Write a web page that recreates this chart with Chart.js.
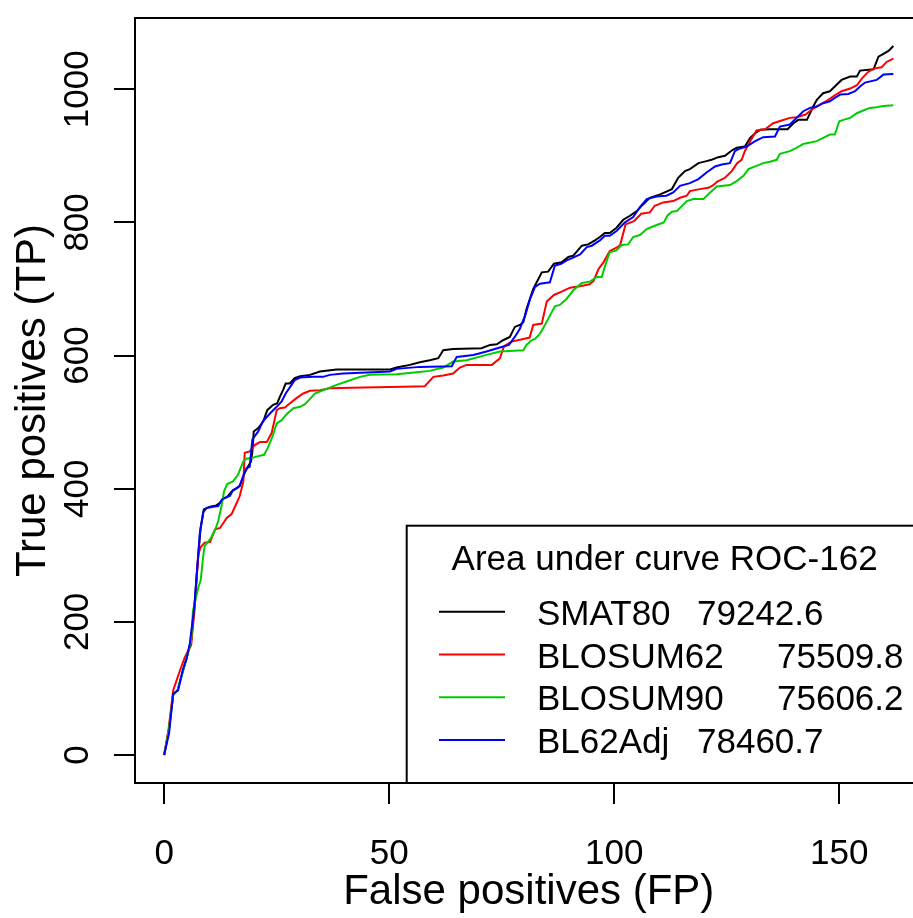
<!DOCTYPE html>
<html>
<head>
<meta charset="utf-8">
<script src="https://cdn.jsdelivr.net/npm/chart.js@4.4.0/dist/chart.umd.min.js"></script>
<style>
  html, body { margin: 0; padding: 0; background: #fff; overflow: hidden; }
  canvas { display: block; }
</style>
</head>
<body>
<canvas id="roc" width="960" height="918"></canvas>
<script>
const xTicks = [0, 50, 100, 150];
const yTicks = [0, 200, 400, 600, 800, 1000];

const seriesNames = ['SMAT80', 'BLOSUM62', 'BLOSUM90', 'BL62Adj'];
const aucValues = ['79242.6', '75509.8', '75606.2', '78460.7'];
const legendTitle = 'Area under curve ROC-162';

// SMAT80 (black)
const smat80FP = [0, 1, 2, 3, 4, 5, 6, 6.7, 7.3, 8.1, 8.8, 10.2, 11.6, 12.4, 13.1, 13.9, 15, 16.1, 16.8, 17.9, 18.7, 19.3, 19.6, 19.9, 20.9, 22, 22.9, 24.2, 25.1, 25.7, 26.4, 27, 27.9, 29, 30.2, 32.4, 34.6, 38.3, 44.2, 50.2, 51.6, 54.6, 56.8, 59, 60.9, 62, 64.2, 70.5, 72.4, 73.9, 75.3, 76.8, 77.9, 79, 79.8, 80.5, 82, 83.9, 85.3, 86.6, 88.3, 89.8, 90.9, 92.8, 94.2, 95.7, 96.8, 97.9, 99, 100.5, 102, 103.5, 105, 106.4, 107.9, 110.2, 112.8, 114.2, 115.7, 116.8, 118.7, 120.5, 121.6, 123.1, 124.6, 126.1, 127.2, 129, 130.2, 131.3, 132.4, 134.6, 138.5, 139.8, 140.9, 142.8, 144.2, 145, 146.4, 147.9, 149, 150.5, 152.4, 153.9, 154.6, 157.6, 158.7, 159.8, 161, 162];
const smat80TP = [0, 36, 90, 98, 122, 146, 172, 222, 277, 341, 369, 373, 375, 379, 386, 387, 396, 401, 404, 424, 434, 441, 456, 486, 491, 501, 518, 526, 528, 538, 548, 558, 558, 566, 569, 571, 576, 579, 579, 579, 582, 586, 590, 593, 596, 608, 610, 611, 616, 617, 623, 628, 643, 646, 650, 670, 700, 725, 726, 738, 740, 748, 750, 765, 767, 773, 778, 784, 784, 792, 804, 810, 817, 827, 837, 842, 850, 867, 877, 880, 889, 892, 894, 898, 900, 908, 912, 914, 927, 934, 939, 940, 940, 949, 954, 954, 974, 984, 994, 997, 1004, 1014, 1019, 1019, 1028, 1030, 1049, 1053, 1058, 1065];

// BLOSUM62 (red)
const blosum62FP = [0, 1, 2, 3.5, 4.6, 6, 6.8, 7.2, 7.6, 8.1, 9, 10.2, 11.3, 12.4, 13.9, 15, 16.8, 17.6, 17.9, 19, 20.2, 21.3, 22.8, 23.9, 25, 25.7, 26.8, 27.9, 29.4, 30.9, 32.4, 34.6, 36.8, 44.2, 53.1, 57.9, 59.8, 62, 64.2, 65.7, 67.2, 72.8, 74.6, 75.5, 77.2, 79.8, 81.2, 82, 83.9, 85, 86.6, 88.3, 90.2, 92.4, 94.5, 95.4, 96.5, 97.6, 99, 100.5, 101.3, 102.5, 104.4, 106, 107.9, 109, 110.9, 113.1, 114.6, 116.1, 116.8, 119, 120.9, 122, 122.8, 124.6, 126.1, 127.3, 128.3, 129, 130.2, 131.6, 133.5, 135.3, 137.2, 139, 140.5, 142.5, 144.2, 145.5, 147.3, 149, 150.5, 152.4, 153.9, 155, 156.4, 157.6, 159.4, 160.5, 162];
const blosum62TP = [0, 40, 97, 127, 147, 165, 222, 262, 302, 312, 319, 320, 339, 341, 356, 362, 389, 411, 454, 456, 466, 470, 470, 484, 518, 521, 522, 528, 536, 543, 547, 548, 551, 552, 553, 554, 568, 570, 573, 582, 586, 586, 596, 614, 621, 625, 627, 646, 648, 681, 691, 696, 702, 704, 707, 712, 730, 740, 757, 762, 766, 797, 802, 813, 815, 825, 830, 832, 837, 840, 847, 850, 852, 856, 861, 867, 877, 889, 894, 907, 922, 938, 940, 949, 953, 957, 958, 962, 971, 976, 983, 991, 997, 1001, 1006, 1016, 1026, 1031, 1033, 1041, 1046];

// BLOSUM90 (green)
const blosum90FP = [0, 1, 2, 3, 4, 5, 6, 6.4, 7.6, 8.1, 8.7, 9, 10.3, 11.3, 12, 12.8, 13.3, 14, 15.3, 16.4, 17.6, 18.3, 19.4, 20.9, 22.2, 23, 24.1, 25, 26.1, 27.2, 28.7, 30.2, 31.3, 32.4, 33.5, 34.6, 36.1, 38.3, 40.5, 43.5, 45.7, 51.6, 56.1, 59, 62, 64.2, 67.2, 71.6, 74.6, 79.8, 80.5, 81.6, 82.4, 83.5, 84.6, 85.7, 86.8, 87.9, 89.4, 90.9, 92.8, 94.6, 96.1, 97.2, 98.2, 99, 100.5, 101.6, 103.1, 104.2, 105.7, 107.2, 109, 111, 111.8, 112.8, 113.9, 116.1, 117.6, 119.8, 121.3, 122.8, 125.7, 127.2, 128.7, 129.8, 131.6, 133.1, 134.6, 136.1, 136.8, 139, 140.5, 142, 142.8, 145, 146.4, 147.9, 149, 150, 150.9, 152.4, 153.9, 155.3, 156.8, 158.3, 159.8, 162];
const blosum90TP = [0, 36, 90, 98, 122, 146, 172, 217, 252, 262, 300, 314, 325, 338, 351, 376, 396, 407, 411, 421, 441, 445, 446, 449, 451, 461, 479, 498, 503, 512, 521, 523, 527, 535, 543, 546, 550, 556, 561, 568, 571, 572, 575, 577, 582, 591, 593, 601, 606, 608, 616, 623, 625, 633, 646, 660, 674, 676, 685, 698, 709, 711, 718, 718, 740, 755, 758, 766, 767, 778, 781, 790, 795, 800, 810, 816, 817, 832, 835, 835, 845, 854, 856, 862, 870, 880, 885, 889, 891, 894, 903, 907, 912, 918, 919, 922, 927, 932, 932, 952, 954, 957, 964, 968, 972, 973, 975, 976];

// BL62Adj (blue)
const bl62adjFP = [0, 1.1, 2, 3.1, 4.1, 5, 5.7, 6.7, 7.3, 7.9, 8.7, 9.4, 10.9, 12, 12.8, 13.7, 14.6, 15.3, 16.2, 16.8, 17.9, 18.3, 19, 19.6, 20.9, 21.9, 23.5, 25, 26.1, 27, 28.3, 29, 30.2, 33.1, 35.3, 36.8, 39.8, 50.2, 51.6, 56.8, 63.9, 65, 68.7, 71.6, 74.6, 76.6, 77.9, 79, 80.2, 81.3, 82.4, 83.5, 85.7, 86.8, 88.3, 89.4, 90.5, 92.4, 93.9, 95, 96.8, 97.9, 99, 100.5, 102.4, 104.2, 105.7, 107.2, 109.4, 111.6, 113.1, 114.6, 116.8, 118.7, 120.5, 122.4, 123.9, 125.7, 126.8, 127.6, 129.4, 131.3, 133.1, 135.7, 136.8, 139, 140.5, 142, 143.5, 145, 146.4, 147.9, 149, 150.2, 152, 153.5, 154.6, 155.7, 158.3, 159.8, 162];
const bl62adjTP = [0, 33, 92, 97, 127, 145, 168, 222, 277, 332, 365, 371, 373, 374, 383, 387, 389, 398, 401, 405, 425, 431, 433, 474, 486, 501, 513, 523, 531, 543, 556, 563, 567, 568, 568, 571, 573, 576, 580, 583, 584, 598, 601, 606, 612, 616, 628, 640, 660, 685, 703, 708, 710, 735, 738, 743, 746, 752, 763, 765, 773, 780, 780, 787, 800, 808, 823, 835, 839, 840, 845, 855, 859, 865, 875, 884, 887, 889, 907, 910, 914, 922, 928, 929, 944, 947, 957, 967, 972, 974, 979, 982, 987, 992, 993, 997, 1004, 1010, 1014, 1022, 1023];

const seriesColors = ['#000000', '#ff0000', '#00cd00', '#0000ff'];

function toPoints(fp, tp) {
  return fp.map((x, i) => ({ x: x, y: tp[i] }));
}

Chart.defaults.font.family = '"Liberation Sans", Arial, sans-serif';
Chart.defaults.color = '#000';

// R style box around the plot region
const boxPlugin = {
  id: 'box',
  afterDraw(chart) {
    const { ctx, chartArea: a } = chart;
    ctx.save();
    ctx.strokeStyle = '#000';
    ctx.lineWidth = 2;
    ctx.strokeRect(a.left, a.top, a.right - a.left, a.bottom - a.top);
    ctx.restore();
  }
};

// legend in the bottom right corner, with tab-aligned AUC values
const rocLegend = {
  id: 'rocLegend',
  afterDraw(chart) {
    const { ctx, chartArea: a } = chart;
    const left = 406.7, top = 525.7;
    ctx.save();
    ctx.fillStyle = '#fff';
    ctx.fillRect(left, top, a.right - left, a.bottom - top);
    ctx.strokeStyle = '#000';
    ctx.lineWidth = 2;
    ctx.strokeRect(left, top, a.right - left, a.bottom - top);

    ctx.fillStyle = '#000';
    ctx.font = '35px "Liberation Sans", Arial, sans-serif';
    ctx.textAlign = 'center';
    ctx.textBaseline = 'alphabetic';
    ctx.fillText(legendTitle, (left + a.right) / 2, 570);

    ctx.textAlign = 'left';
    chart.data.datasets.forEach((ds, i) => {
      const y = 611.7 + i * 42.8;
      ctx.strokeStyle = ds.borderColor;
      ctx.lineWidth = 2;
      ctx.beginPath();
      ctx.moveTo(439, y);
      ctx.lineTo(505, y);
      ctx.stroke();
      const tx = 537;
      ctx.fillText(seriesNames[i], tx, y + 13);
      const w = ctx.measureText(seriesNames[i]).width;
      const tab = Math.ceil((w + 8) / 80) * 80;
      ctx.fillText(aucValues[i], tx + tab, y + 13);
    });
    ctx.restore();
  }
};

const fpList = [smat80FP, blosum62FP, blosum90FP, bl62adjFP];
const tpList = [smat80TP, blosum62TP, blosum90TP, bl62adjTP];

new Chart(document.getElementById('roc'), {
  type: 'scatter',
  data: {
    datasets: seriesNames.map((name, i) => ({
      label: name,
      data: toPoints(fpList[i], tpList[i]),
      showLine: true,
      borderColor: seriesColors[i],
      backgroundColor: seriesColors[i],
      borderWidth: 2,
      pointRadius: 0,
      tension: 0,
      order: 4 - i
    }))
  },
  options: {
    responsive: false,
    animation: false,
    layout: { padding: { left: 0, right: 37.5, top: 14, bottom: 0 } },
    plugins: {
      legend: { display: false },
      tooltip: { enabled: false }
    },
    scales: {
      x: {
        type: 'linear',
        min: -6.48,
        max: 168.48,
        afterBuildTicks: s => { s.ticks = xTicks.map(v => ({ value: v })); },
        afterFit: s => { s.height = 135; },
        grid: { drawOnChartArea: false, tickLength: 21, color: '#000', lineWidth: 2 },
        border: { display: false },
        ticks: { padding: 29, autoSkip: false, maxRotation: 0, font: { size: 35 }, color: '#000', callback: v => String(v) },
        title: { display: true, text: 'False positives (FP)', font: { size: 42 }, padding: { top: 0, bottom: 0 }, color: '#000' }
      },
      y: {
        type: 'linear',
        min: -42,
        max: 1107,
        afterBuildTicks: s => { s.ticks = yTicks.map(v => ({ value: v })); },
        afterFit: s => { s.width = 135; },
        grid: { drawOnChartArea: false, tickLength: 21, color: '#000', lineWidth: 2 },
        border: { display: false },
        ticks: { minRotation: 90, maxRotation: 90, crossAlign: 'center', padding: -3, autoSkip: false, font: { size: 35 }, color: '#000', callback: v => String(v) },
        title: { display: true, text: 'True positives (TP)', font: { size: 42 }, padding: { top: 8, bottom: 0 }, color: '#000' }
      }
    }
  },
  plugins: [boxPlugin, rocLegend]
});
</script>
</body>
</html>
